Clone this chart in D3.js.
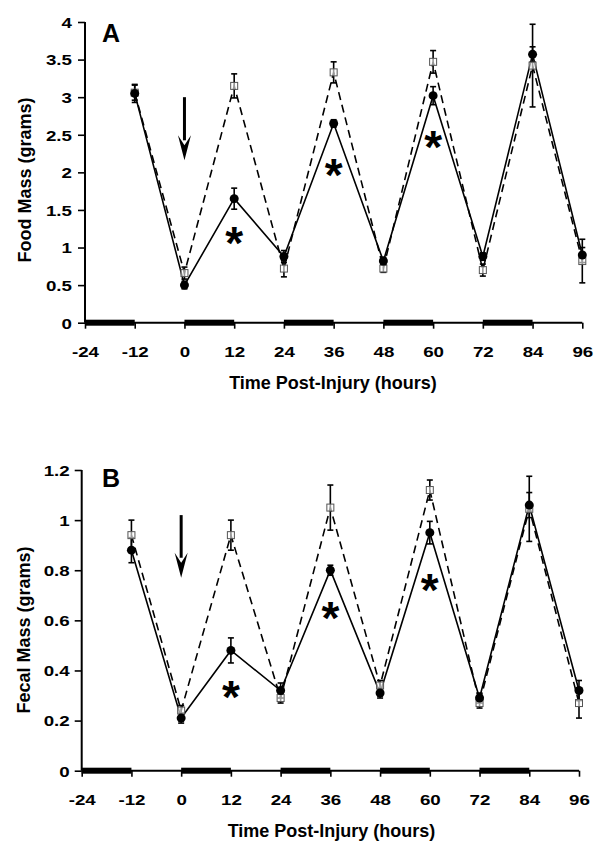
<!DOCTYPE html>
<html><head><meta charset="utf-8">
<script src="https://cdn.jsdelivr.net/npm/d3@7"></script>
<style>
body{margin:0;background:#fff;}
svg text{font-family:Arial,"Liberation Sans",sans-serif;font-weight:bold;fill:#000;}
</style></head>
<body><svg id="c" width="600" height="852"></svg>
<script>
// ---- data ----
const times = [-12, 0, 12, 24, 36, 48, 60, 72, 84, 96];
const xTicks = [-24, -12, 0, 12, 24, 36, 48, 60, 72, 84, 96];
const darkPeriods = [[-24, -12], [0, 12], [24, 36], [48, 60], [72, 84]];

const foodInjured    = [3.05, 0.50, 1.65, 0.88, 2.65, 0.82, 3.02, 0.88, 3.57, 0.90];
const foodInjuredErr = [0.12, 0.05, 0.14, 0.08, 0.05, 0.05, 0.12, 0.05, 0.10, 0.10];
const foodSham       = [3.06, 0.66, 3.15, 0.72, 3.33, 0.72, 3.47, 0.70, 3.42, 0.82];
const foodShamErr    = [0.10, 0.08, 0.16, 0.11, 0.14, 0.05, 0.15, 0.08, 0.55, 0.29];
const foodTicks = [0, 0.5, 1, 1.5, 2, 2.5, 3, 3.5, 4];

const fecalInjured    = [0.88, 0.21, 0.48, 0.32, 0.80, 0.31, 0.95, 0.29, 1.06, 0.32];
const fecalInjuredErr = [0.05, 0.02, 0.05, 0.03, 0.02, 0.02, 0.045, 0.02, 0.05, 0.04];
const fecalSham       = [0.94, 0.24, 0.94, 0.29, 1.05, 0.34, 1.12, 0.27, 1.045, 0.27];
const fecalShamErr    = [0.06, 0.02, 0.06, 0.02, 0.09, 0.02, 0.04, 0.02, 0.13, 0.06];
const fecalTicks = [0, 0.2, 0.4, 0.6, 0.8, 1, 1.2];

const asterisksA = [[12, 1.19], [36, 2.10], [60, 2.47]];
const asterisksB = [[12, 0.335], [36, 0.65], [60, 0.76]];
const arrowA = [0, 3.0, 2.16];
const arrowB = [0, 1.02, 0.77];

const svg = d3.select("#c");
const SX = 1.25; // horizontal stretch of tick labels as in the reference

function panel(cfg) {
  const x = d3.scaleLinear().domain([-24, 96]).range([cfg.x0, cfg.x1]);
  const y = d3.scaleLinear().domain(cfg.yDomain).range([cfg.y0, cfg.y1]);
  const g = svg.append("g");

  // lines
  const line = d3.line().x((d, i) => x(times[i])).y(d => y(d));
  g.append("path").datum(cfg.sham).attr("d", line).attr("fill", "none")
    .attr("stroke", "#000").attr("stroke-width", 1.6).attr("stroke-dasharray", "8,5");
  g.append("path").datum(cfg.injured).attr("d", line).attr("fill", "none")
    .attr("stroke", "#000").attr("stroke-width", 1.6);

  // error bars
  function errs(vals, err) {
    const eg = g.append("g").attr("stroke", "#000").attr("stroke-width", 1.6);
    vals.forEach((v, i) => {
      const cx = x(times[i]), t = y(v + err[i]), b = y(v - err[i]);
      eg.append("line").attr("x1", cx).attr("x2", cx).attr("y1", t).attr("y2", b);
      eg.append("line").attr("x1", cx - 3).attr("x2", cx + 3).attr("y1", t).attr("y2", t);
      eg.append("line").attr("x1", cx - 3).attr("x2", cx + 3).attr("y1", b).attr("y2", b);
    });
  }
  errs(cfg.sham, cfg.shamErr);
  errs(cfg.injured, cfg.injuredErr);

  // markers
  g.selectAll(".sq").data(cfg.sham).join("rect")
    .attr("x", (d, i) => x(times[i]) - 3.5).attr("y", d => y(d) - 3.5)
    .attr("width", 7).attr("height", 7).attr("fill", "#fff").attr("fill-opacity", 0.6)
    .attr("stroke", "#555").attr("stroke-width", 1);
  g.selectAll(".ci").data(cfg.injured).join("circle")
    .attr("cx", (d, i) => x(times[i])).attr("cy", d => y(d)).attr("r", 4.5).attr("fill", "#000");

  // axes
  const ya = d3.axisLeft(y).tickValues(cfg.yTicks).tickSize(7).tickFormat(d => String(d));
  const yg = g.append("g").attr("transform", `translate(${cfg.x0},0)`).call(ya);
  yg.select(".domain").attr("stroke-width", 2).attr("d", `M0,${cfg.y0}V${cfg.y1}`);
  yg.selectAll(".tick line").attr("stroke-width", 1.6);
  yg.selectAll("text").style("font-size", "15px").attr("x", 0).attr("dy", "0.36em")
    .attr("transform", `translate(${-cfg.yLabOff},0) scale(${SX},1)`);

  const xa = d3.axisBottom(x).tickValues(xTicks).tickSize(6).tickFormat(d => String(d));
  const xg = g.append("g").attr("transform", `translate(0,${cfg.y0})`).call(xa);
  xg.select(".domain").attr("stroke-width", 2).attr("d", `M${cfg.x0},0H${cfg.x1}`);
  xg.selectAll(".tick line").attr("stroke-width", 1.6);
  xg.selectAll("text").style("font-size", "15px").attr("y", 0).attr("dy", "0.36em")
    .attr("transform", `translate(0,29) scale(${SX},1)`);

  // dark periods
  g.selectAll(".dk").data(darkPeriods).join("rect")
    .attr("x", d => x(d[0])).attr("width", d => x(d[1]) - x(d[0]))
    .attr("y", cfg.y0 - 3).attr("height", 6).attr("fill", "#000");

  // arrow
  const ax = x(cfg.arrow[0]), aTop = y(cfg.arrow[1]), aTip = y(cfg.arrow[2]);
  g.append("line").attr("x1", ax).attr("x2", ax).attr("y1", aTop).attr("y2", aTip - 20)
    .attr("stroke", "#000").attr("stroke-width", 3);
  g.append("path").attr("d", `M${ax - 6.5},${aTip - 25}L${ax},${aTip - 15}L${ax + 6.5},${aTip - 25}L${ax},${aTip}Z`)
    .attr("fill", "#000");

  // asterisks
  g.selectAll(".ast").data(cfg.asterisks).join("text")
    .attr("x", d => x(d[0])).attr("y", d => y(d[1]) + 26)
    .attr("text-anchor", "middle").style("font-size", "46px").text("*");

  // labels
  g.append("text").attr("x", 102).attr("y", cfg.letterY).style("font-size", "25px").text(cfg.letter);
  g.append("text").attr("transform", `translate(${cfg.ytx},${cfg.yty}) rotate(-90)`)
    .attr("text-anchor", "middle").attr("dy", "0.36em").style("font-size", "18px").text(cfg.ylabel);
  g.append("text").attr("x", cfg.xtx).attr("y", cfg.xty).attr("text-anchor", "middle")
    .attr("dy", "0.36em").style("font-size", "18px").text("Time Post-Injury (hours)");
}

panel({x0: 85, x1: 582.3, y0: 322.7, y1: 22, yDomain: [0, 4], yTicks: foodTicks,
  injured: foodInjured, injuredErr: foodInjuredErr, sham: foodSham, shamErr: foodShamErr,
  arrow: arrowA, asterisks: asterisksA, letter: "A", letterY: 41.7, yLabOff: 13,
  ylabel: "Food Mass (grams)", ytx: 25, yty: 180, xtx: 333, xty: 383});

panel({x0: 81.7, x1: 579, y0: 770.7, y1: 470, yDomain: [0, 1.2], yTicks: fecalTicks,
  injured: fecalInjured, injuredErr: fecalInjuredErr, sham: fecalSham, shamErr: fecalShamErr,
  arrow: arrowB, asterisks: asterisksB, letter: "B", letterY: 486.5, yLabOff: 12,
  ylabel: "Fecal Mass (grams)", ytx: 23.5, yty: 630, xtx: 331.5, xty: 830.5});
</script></body></html>
